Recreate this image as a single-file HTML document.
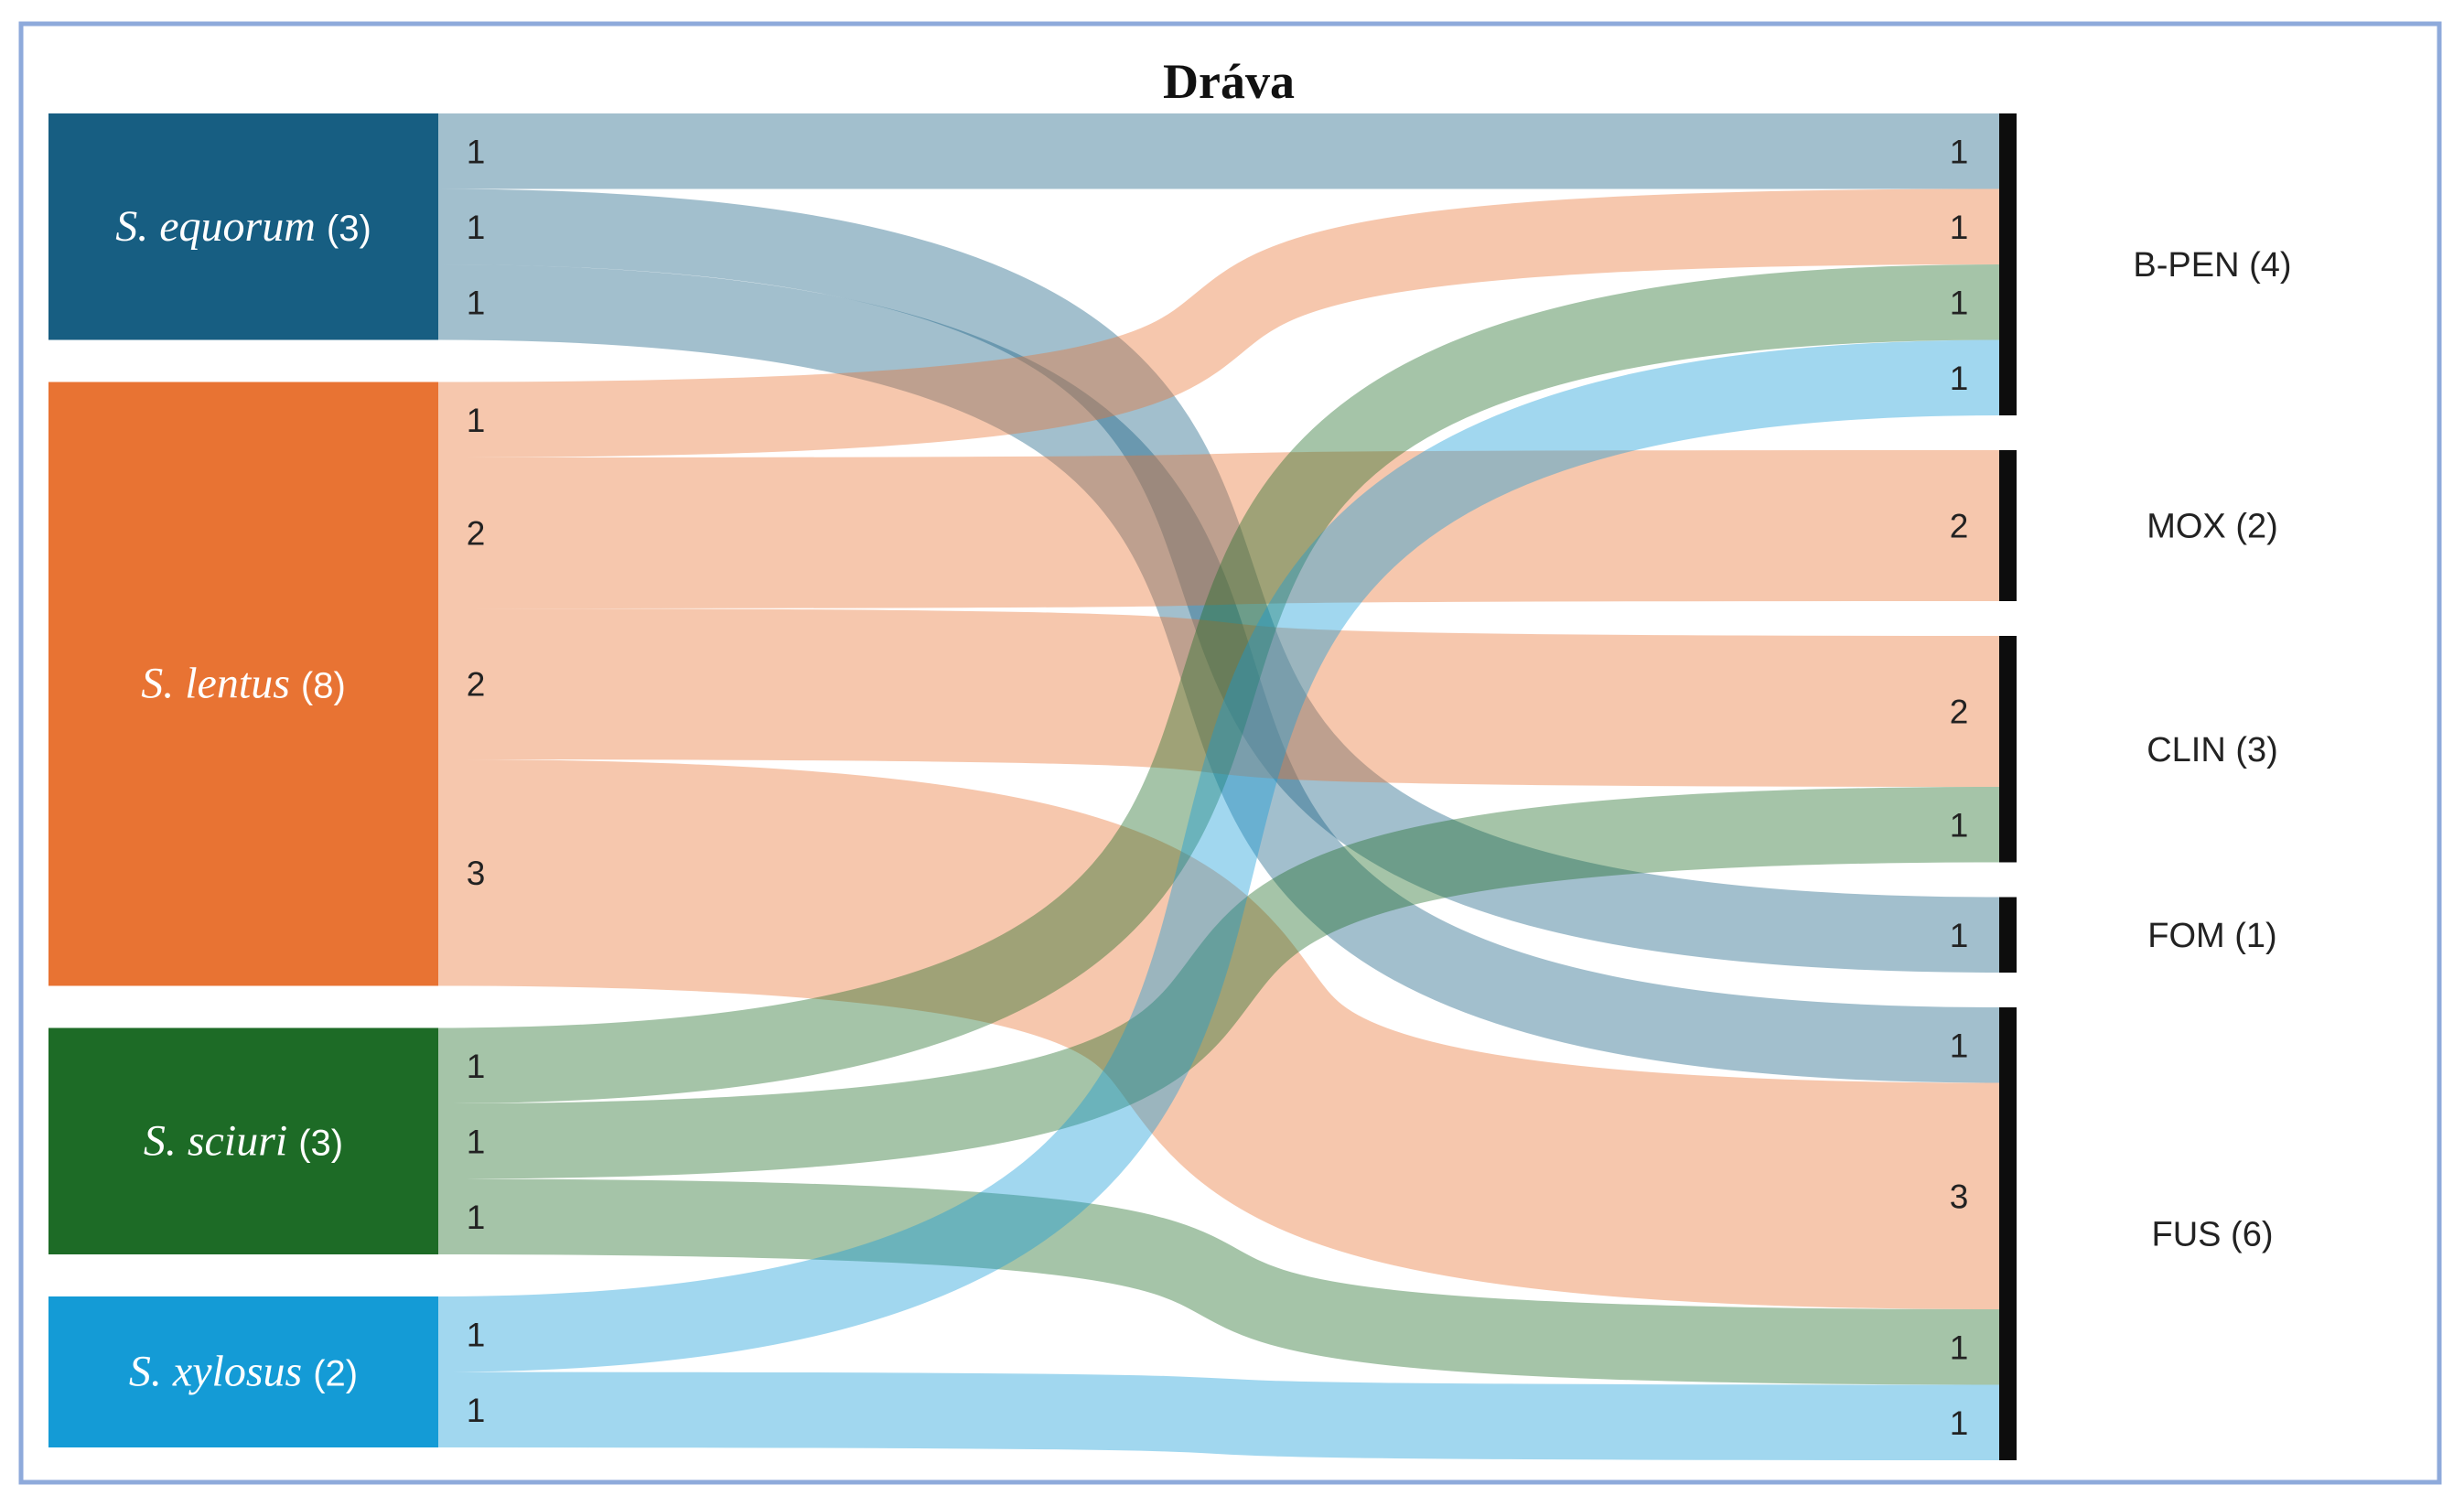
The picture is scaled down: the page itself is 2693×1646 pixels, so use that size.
<!DOCTYPE html>
<html><head><meta charset="utf-8">
<style>
html,body{margin:0;padding:0;background:#fff;}
svg{display:block;}
</style></head>
<body>
<svg id="chart" width="2693" height="1646" viewBox="0 0 2693 1646">
<rect x="23" y="26" width="2643" height="1594" fill="#fff" stroke="#8eaadb" stroke-width="5"/>
<text x="1343" y="107" text-anchor="middle" font-family="Liberation Serif, serif" font-weight="bold" font-size="54" fill="#111">Dráva</text>
<g id="links"></g>
<g id="nodes"></g>
<g id="labels"></g>
</svg>
<script>
const sources = ["S. equorum", "S. lentus", "S. sciuri", "S. xylosus"];
const sourceColors = ["#175e82", "#e87333", "#1d6b26", "#149bd6"];
const targets = ["B-PEN", "MOX", "CLIN", "FOM", "FUS"];
const linkSource = [0, 0, 0, 1, 1, 1, 1, 2, 2, 2, 3, 3];
const linkTarget = [0, 3, 4, 0, 1, 2, 4, 0, 2, 4, 0, 4];
const linkValue  = [1, 1, 1, 1, 2, 2, 3, 1, 1, 1, 1, 1];
const targetOrder = [0, 3, 7, 10, 4, 5, 8, 1, 2, 6, 9, 11];

const NS = "http://www.w3.org/2000/svg";
const U = 82.5, top0 = 124, gapL = 46, gapR = 38;
const xL0 = 53, xL1 = 479, xR0 = 2185, xR1 = 2204;
function mk(tag, attrs, parent){const e=document.createElementNS(NS,tag);for(const k in attrs)e.setAttribute(k,attrs[k]);parent.appendChild(e);return e;}

const sTot = sources.map((s,i)=>linkValue.reduce((a,v,j)=>a+(linkSource[j]===i?v:0),0));
const tTot = targets.map((t,i)=>linkValue.reduce((a,v,j)=>a+(linkTarget[j]===i?v:0),0));
const sTop = []; let y = top0;
sTot.forEach((v,i)=>{sTop.push(y); y += v*U + gapL;});
const tTop = []; y = top0;
tTot.forEach((v,i)=>{tTop.push(y); y += v*U + gapR;});

const sY = [], tY = [];
const sCur = sTop.slice(), tCur = tTop.slice();
linkValue.forEach((v,j)=>{sY[j]=sCur[linkSource[j]]; sCur[linkSource[j]]+=v*U;});
targetOrder.forEach(j=>{tY[j]=tCur[linkTarget[j]]; tCur[linkTarget[j]]+=linkValue[j]*U;});

const gL = document.getElementById('links'), gN = document.getElementById('nodes'), gT = document.getElementById('labels');
const K = 0.85, dx = xR0 - xL1;
const c1 = xL1 + K*dx, c2 = xR0 - K*dx;
linkValue.forEach((v,j)=>{
  const h = v*U, a = sY[j] + h/2, b = tY[j] + h/2;
  const d = `M${xL1},${a} C${c1},${a} ${c2},${b} ${xR0},${b}`;
  const p = mk('path',{d:d, fill:'none', stroke:sourceColors[linkSource[j]], 'stroke-opacity':0.4, 'stroke-width':h, 'stroke-linecap':'butt'}, gL);
  
  
  const t1 = mk('text',{x:520, y:a+13, 'text-anchor':'middle', 'font-family':'Liberation Sans, sans-serif', 'font-size':37, fill:'#222'}, gT);
  t1.textContent = v;
  
  
  const t2 = mk('text',{x:2141, y:b+13, 'text-anchor':'middle', 'font-family':'Liberation Sans, sans-serif', 'font-size':37, fill:'#222'}, gT);
  t2.textContent = v;
  
  
});

sources.forEach((s,i)=>{
  const h = sTot[i]*U;
  const r = mk('rect',{x:xL0, y:sTop[i], width:xL1-xL0, height:h, fill:sourceColors[i]}, gN);
  
  
  const t = mk('text',{x:(xL0+xL1)/2, y:sTop[i]+h/2+15, 'text-anchor':'middle', fill:'#fff', 'font-size':48}, gT);
  
  
  const t1 = mk('tspan',{'font-family':'Liberation Serif, serif','font-style':'italic'}, t); t1.textContent = s + ' ';
  const t2 = mk('tspan',{'font-family':'Liberation Sans, sans-serif','font-size':40}, t); t2.textContent = '(' + sTot[i] + ')';
});

targets.forEach((tn,i)=>{
  const h = tTot[i]*U;
  const r = mk('rect',{x:xR0, y:tTop[i], width:xR1-xR0, height:h, fill:'#0d0d0d'}, gN);
  
  
  const t = mk('text',{x:2418, y:tTop[i]+h/2+13, 'text-anchor':'middle', 'font-family':'Liberation Sans, sans-serif', 'font-size':38, fill:'#222'}, gT);
  t.textContent = tn + ' (' + tTot[i] + ')';
  
  
});
</script>
</body></html>
